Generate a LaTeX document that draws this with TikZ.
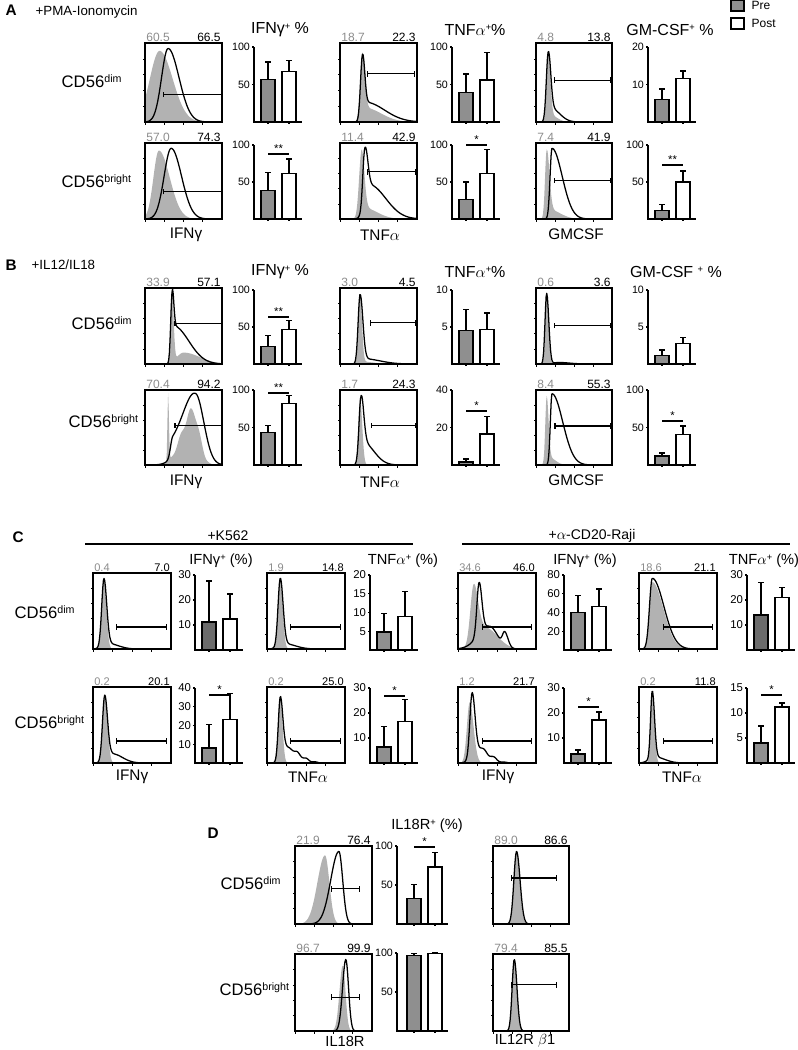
\documentclass[tikz,border=0pt]{standalone}
\usepackage{fontspec}
\setmainfont{Liberation Sans}
\definecolor{histgray}{gray}{0.70}
\definecolor{bargray}{gray}{0.56}
\definecolor{bardark}{gray}{0.42}
\definecolor{numgray}{gray}{0.55}
\newcounter{nd}
\newcommand\sps[1]{\raisebox{3.4pt}{\fontsize{8}{8}\selectfont #1}}
\newcommand\spp{\raisebox{3.4pt}{\fontsize{7}{7}\selectfont +}}
\newcommand\numsize{\fontsize{9}{9}\selectfont}
\def\parsegate#1,#2,#3\relax{\def\ga{#1}\def\gb{#2}\def\gy{#3}}
\tikzset{
  box/.style={line width=0.8pt},
  hline/.style={line width=0.95pt, line join=round},
  gateline/.style={line width=0.8pt},
  axisl/.style={line width=0.8pt},
  barl/.style={line width=0.9pt},
  thintick/.style={line width=0.4pt},
  numg/.style={font=\numsize, text=numgray, inner sep=0.8pt},
  numb/.style={font=\numsize, inner sep=0.8pt},
  title/.style={font=\fontsize{12}{13}\selectfont},
  ctitle/.style={font=\fontsize{11}{12}\selectfont},
  xlab/.style={font=\fontsize{11.5}{12}\selectfont},
  rowlab/.style={font=\fontsize{12.5}{13}\selectfont, anchor=west},
  panel/.style={font=\fontsize{11.5}{12}\selectfont\bfseries, anchor=west},
  cond/.style={font=\fontsize{10}{12}\selectfont, anchor=west},
  sigs/.style={font=\fontsize{8.5}{8.5}\selectfont, inner sep=0.4pt},
}
\pgfkeys{/bc/.is family, /bc,
  ax/.store in=\bcax, yo/.store in=\bcyo, yi/.store in=\bcyi, mx/.store in=\bcmx,
  ticks/.store in=\bcticks, g/.store in=\bcg, ge/.store in=\bcge, w/.store in=\bcw, we/.store in=\bcwe,
  fill/.store in=\bcfill, sig/.store in=\bcsig, sy/.store in=\bcsy, off/.store in=\bcoff, tf/.store in=\bctf}
\newcommand\barch[1]{%
  \stepcounter{nd}%
  \pgfkeys{/bc/.cd, fill=bargray, sig=, sy=0, off=7, tf=8, #1}%
  \pgfmathsetmacro\bcs{(\bcyo-\bcyi)/\bcmx}%
  \pgfmathsetmacro\bga{\bcax+\bcoff}%
  \pgfmathsetmacro\bgb{\bcax+\bcoff+14}%
  \pgfmathsetmacro\bgc{\bcax+\bcoff+7}%
  \pgfmathsetmacro\bwa{\bcax+\bcoff+21}%
  \pgfmathsetmacro\bwb{\bcax+\bcoff+35}%
  \pgfmathsetmacro\bwc{\bcax+\bcoff+28}%
  \pgfmathsetmacro\bend{\bcax+\bcoff+41}%
  \pgfmathsetmacro\ygt{\bcyo-\bcg*\bcs}%
  \pgfmathsetmacro\yge{\bcyo-\bcge*\bcs}%
  \pgfmathsetmacro\ywt{\bcyo-\bcw*\bcs}%
  \pgfmathsetmacro\ywe{\bcyo-\bcwe*\bcs}%
  \draw[barl] (\bgc,\ygt) -- (\bgc,\yge) (\bgc-3,\yge) -- (\bgc+3,\yge);
  \draw[barl] (\bwc,\ywt) -- (\bwc,\ywe) (\bwc-3,\ywe) -- (\bwc+3,\ywe);
  \draw[barl, fill=\bcfill] (\bga,\bcyo) rectangle (\bgb,\ygt);
  \draw[barl, fill=white] (\bwa,\bcyo) rectangle (\bwb,\ywt);
  \draw[axisl] (\bcax,\bcyi) -- (\bcax,\bcyo) -- (\bend,\bcyo);
  \draw[axisl] (\bgc,\bcyo) -- ++(0,2) (\bwc,\bcyo) -- ++(0,2);
  \foreach \tk in \bcticks {
    \draw[axisl] (\bcax,{\bcyo-\tk*\bcs}) -- ++(-2.5,0)
      node[left, inner sep=0.8pt, font=\fontsize{\bctf}{\bctf}\selectfont] (bt\arabic{nd}-\tk) {\tk};
  }
  \ifx\bcsig\empty\else
    \draw[axisl] (\bgc,\bcsy) -- (\bwc,\bcsy) node[midway, above, sigs] (bs\arabic{nd}) {\bcsig};
  \fi
}
\newcommand\hist[9]{%
  \stepcounter{nd}%
  \pgfmathsetmacro\hw{(#3-#1)*0.75}%
  \pgfmathsetmacro\hh{(#4-#2)*0.75}%
  \parsegate#7\relax
  \begin{scope}[shift={(#1,#4)}, x={(\hw pt,0pt)}, y={(0pt,\hh pt)}]
    \begin{scope}
      \clip (0,0) rectangle (1,1);
      \fill[histgray] (0,0) -- plot[domain=0:1,samples=121] (\x,{#5}) -- (1,0) -- cycle;
      \draw[hline] plot[domain=0:1,samples=121] (\x,{#6});
    \end{scope}
    \draw[box] (0,0) rectangle (1,1);
    \foreach \tk in {0.2,0.4,0.6,0.8} \draw[thintick] (0,\tk) -- ++(-0.025,0);
    \foreach \dd in {0,0.25,0.5,0.75} {
      \draw[thintick] (\dd,0) -- ++(0,-0.035);
      \foreach \mm in {0.075,0.119,0.15,0.175,0.195,0.211,0.226,0.239}
        \draw[thintick] (\dd+\mm,0) -- ++(0,-0.018);
    }
    \draw[gateline] (\ga,\gy) -- (\gb,\gy);
    \draw[gateline] (\ga,\gy-0.035) -- (\ga,\gy+0.035) (\gb,\gy-0.035) -- (\gb,\gy+0.035);
    \node[numg, anchor=south west] (hl\arabic{nd}) at (0,1) {#8};
    \node[numb, anchor=south east] (hr\arabic{nd}) at (1,1) {#9};
  \end{scope}}
\begin{document}
\begin{tikzpicture}[x=0.75pt,y=-0.75pt,
  declare function={tq(\x,\xm,\xl,\xr)=(\x-\xm)/ifthenelse(\x<\xm,\xl,\xr);
                    pk(\x,\xm,\xl,\xr)=exp(-min(20,tq(\x,\xm,\xl,\xr)*tq(\x,\xm,\xl,\xr)));}]
\useasboundingbox (0,0) rectangle (798,1050);

% ---------------- Legend
\draw[barl, fill=bargray] (731,0.8) rectangle (744,11);
\node[anchor=west, font=\fontsize{9}{10}\selectfont] (lpre) at (747,5.5) {Pre};
\draw[barl, fill=white] (731,18) rectangle (744,29);
\node[anchor=west, font=\fontsize{9}{10}\selectfont] (lpost) at (747,23.5) {Post};

% ---------------- Panel A
\node[panel] (pA) at (1,10) {A};
\node[cond] (cA) at (31,12) {+PMA-Ionomycin};
\node[title] (tA1) at (280,30) {IFNγ\spp\ \%};
\node[title] (tA2) at (475,30) {TNF$\alpha$\spp\%};
\node[title] (tA3) at (670,30) {GM-CSF\spp\ \%};
\node[rowlab] (rA1) at (57,81) {CD56\sps{dim}};
\node[rowlab] (rA2) at (57,181) {CD56\sps{bright}};

\hist{145}{43}{222}{122}{0.9*pk(\x,0.19,0.18,0.24)}{0.93*pk(\x,0.3,0.12,0.2)}{0.24,0.99,0.35}{60.5}{66.5}
\hist{340}{43}{417}{122}{0.75*pk(\x,0.29,0.04,0.045)+0.18*pk(\x,0.32,0.05,0.3)}{0.72*pk(\x,0.29,0.035,0.04)+0.25*pk(\x,0.33,0.05,0.35)}{0.36,0.97,0.61}{18.7}{22.3}
\hist{536}{43}{612}{122}{0.82*pk(\x,0.16,0.03,0.04)+0.08*pk(\x,0.2,0.05,0.12)}{0.8*pk(\x,0.16,0.035,0.045)+0.17*pk(\x,0.2,0.05,0.16)}{0.24,0.98,0.53}{4.8}{13.8}
\hist{145}{143}{222}{219}{0.9*pk(\x,0.18,0.1,0.2)}{0.93*pk(\x,0.34,0.13,0.19)}{0.24,0.99,0.36}{57.0}{74.3}
\hist{340}{143}{417}{219}{0.78*pk(\x,0.28,0.045,0.05)+0.15*pk(\x,0.3,0.06,0.25)}{0.67*pk(\x,0.32,0.035,0.05)+0.45*pk(\x,0.38,0.08,0.3)}{0.36,0.98,0.62}{11.4}{42.9}
\hist{536}{143}{612}{219}{0.85*pk(\x,0.14,0.03,0.05)+0.12*pk(\x,0.18,0.05,0.2)}{0.93*pk(\x,0.21,0.035,0.19)}{0.24,0.98,0.51}{7.4}{41.9}

\barch{ax=254,yo=122,yi=47,mx=100,ticks={50,100},g=57,ge=80,w=67,we=82}
\barch{ax=452,yo=122,yi=47,mx=100,ticks={50,100},g=39,ge=64,w=56,we=93}
\barch{ax=648,yo=122,yi=47,mx=20,ticks={10,20},g=6.1,ge=8.8,w=11.5,we=13.6}
\barch{ax=254,yo=219,yi=145,mx=100,ticks={50,100},g=38,ge=62.5,w=61,we=81,sig=**,sy=154}
\barch{ax=452,yo=219,yi=145,mx=100,ticks={50,100},g=26,ge=50,w=61,we=94,sig=*,sy=145}
\barch{ax=648,yo=219,yi=145,mx=100,ticks={50,100},g=12,ge=20,w=50,we=65,sig=**,sy=165}

\node[xlab] (xA1) at (186,235) {IFNγ};
\node[xlab] (xA2) at (380,235) {TNF$\alpha$};
\node[xlab] (xA3) at (576,234) {GMCSF};

% ---------------- Panel B
\node[panel] (pB) at (1,265) {B};
\node[cond] (cB) at (27,265) {+IL12/IL18};
\node[title] (tB1) at (280,272) {IFNγ\spp\ \%};
\node[title] (tB2) at (475,272) {TNF$\alpha$\spp\%};
\node[title] (tB3) at (676,272) {GM-CSF \spp\ \%};
\node[rowlab] (rB1) at (67,323) {CD56\sps{dim}};
\node[rowlab] (rB2) at (64,421) {CD56\sps{bright}};

\hist{145}{288}{222}{364}{0.93*pk(\x,0.35,0.025,0.03)+0.15*pk(\x,0.5,0.12,0.3)}{0.58*pk(\x,0.35,0.025,0.03)+0.5*pk(\x,0.37,0.035,0.28)}{0.39,0.99,0.53}{33.9}{57.1}
\hist{340}{288}{417}{364}{0.9*pk(\x,0.26,0.03,0.035)+0.03*pk(\x,0.3,0.1,0.2)}{0.88*pk(\x,0.26,0.035,0.05)+0.07*pk(\x,0.3,0.05,0.3)}{0.4,0.98,0.54}{3.0}{4.5}
\hist{536}{288}{612}{364}{0.92*pk(\x,0.14,0.025,0.035)}{0.93*pk(\x,0.14,0.03,0.04)+0.02*pk(\x,0.3,0.1,0.2)}{0.24,0.98,0.51}{0.6}{3.6}
\hist{145}{390}{222}{465}{0.9*pk(\x,0.3,0.012,0.015)+0.72*pk(\x,0.62,0.2,0.12)+0.05*sin(2600*\x)*pk(\x,0.6,0.2,0.15)}{0.86*pk(\x,0.66,0.22,0.15)+0.25*pk(\x,0.36,0.04,0.3)}{0.39,0.99,0.53}{70.4}{94.2}
\hist{340}{390}{417}{465}{0.9*pk(\x,0.26,0.03,0.04)}{0.7*pk(\x,0.27,0.035,0.05)+0.3*pk(\x,0.3,0.05,0.2)}{0.41,0.98,0.53}{1.7}{24.3}
\hist{536}{390}{612}{465}{0.85*pk(\x,0.14,0.025,0.035)+0.1*pk(\x,0.17,0.05,0.12)}{0.95*pk(\x,0.21,0.03,0.2)}{0.25,0.98,0.52}{8.4}{55.3}

\barch{ax=254,yo=364,yi=290,mx=100,ticks={50,100},g=24,ge=39,w=47,we=59,sig=**,sy=317}
\barch{ax=452,yo=364,yi=290,mx=10,ticks={5,10},g=4.5,ge=7.4,w=4.7,we=6.9}
\barch{ax=648,yo=364,yi=290,mx=10,ticks={5,10},g=1.2,ge=1.9,w=2.8,we=3.6}
\barch{ax=254,yo=465,yi=390,mx=100,ticks={50,100},g=43,ge=53,w=82,we=93,sig=**,sy=393}
\barch{ax=452,yo=465,yi=390,mx=40,ticks={20,40},g=1.6,ge=3.2,w=16.5,we=26,sig=*,sy=411}
\barch{ax=648,yo=465,yi=390,mx=100,ticks={50,100},g=12,ge=16,w=41,we=52,sig=*,sy=421}

\node[xlab] (xB1) at (186,482) {IFNγ};
\node[xlab] (xB2) at (380,482) {TNF$\alpha$};
\node[xlab] (xB3) at (576,480) {GMCSF};

% ---------------- Panel C
\renewcommand\numsize{\fontsize{8.3}{8.3}\selectfont}
\node[panel] (pC) at (8,537) {C};
\node[font=\fontsize{10.5}{12}\selectfont] (k562) at (228,536) {+K562};
\draw[axisl] (85,544) -- (413,544);
\node[font=\fontsize{10.5}{12}\selectfont] (raji) at (592,536) {+$\alpha$-CD20-Raji};
\draw[axisl] (462,544) -- (790,544);
\node[ctitle] (tC1) at (221,561) {IFNγ\spp\ (\%)};
\node[ctitle] (tC2) at (403,561) {TNF$\alpha$\spp\ (\%)};
\node[ctitle] (tC3) at (585,561) {IFNγ\spp\ (\%)};
\node[ctitle] (tC4) at (764,561) {TNF$\alpha$\spp\ (\%)};
\node[rowlab] (rC1) at (10,612) {CD56\sps{dim}};
\node[rowlab] (rC2) at (10,722) {CD56\sps{bright}};

\hist{93}{573}{171}{649}{0.9*pk(\x,0.14,0.04,0.045)}{0.88*pk(\x,0.14,0.04,0.05)+0.07*pk(\x,0.2,0.1,0.18)}{0.3,0.94,0.29}{0.4}{7.0}
\hist{267}{573}{345}{649}{0.9*pk(\x,0.17,0.04,0.045)}{0.88*pk(\x,0.17,0.04,0.05)+0.07*pk(\x,0.22,0.1,0.2)}{0.3,0.94,0.29}{1.9}{14.8}
\hist{458}{573}{536}{649}{0.75*pk(\x,0.2,0.06,0.08)+0.28*pk(\x,0.35,0.15,0.22)}{0.68*pk(\x,0.27,0.04,0.05)+0.3*pk(\x,0.4,0.2,0.15)+0.18*pk(\x,0.6,0.04,0.06)}{0.31,0.94,0.29}{34.6}{46.0}
\hist{639}{573}{717}{649}{0.88*pk(\x,0.17,0.05,0.2)}{0.93*pk(\x,0.17,0.05,0.21)}{0.31,0.94,0.29}{18.6}{21.1}
\hist{93}{687}{171}{763}{0.9*pk(\x,0.15,0.04,0.05)}{0.85*pk(\x,0.15,0.04,0.05)+0.12*pk(\x,0.25,0.1,0.18)}{0.3,0.94,0.29}{0.2}{20.1}
\hist{267}{687}{345}{763}{0.88*pk(\x,0.17,0.04,0.04)}{0.8*pk(\x,0.17,0.035,0.045)+0.2*pk(\x,0.25,0.08,0.22)+0.015*sin(3000*\x)*pk(\x,0.4,0.15,0.2)}{0.3,0.94,0.29}{0.2}{25.0}
\hist{458}{687}{536}{763}{0.8*pk(\x,0.15,0.05,0.07)}{0.8*pk(\x,0.18,0.04,0.05)+0.2*pk(\x,0.25,0.1,0.2)+0.02*sin(2500*\x)*pk(\x,0.4,0.15,0.15)}{0.31,0.94,0.29}{1.2}{21.7}
\hist{639}{687}{717}{763}{0.85*pk(\x,0.17,0.03,0.04)}{0.88*pk(\x,0.17,0.03,0.04)+0.08*pk(\x,0.2,0.1,0.18)}{0.31,0.94,0.29}{0.2}{11.8}

\barch{ax=195,yo=650,yi=575,mx=30,ticks={10,20,30},g=11.2,ge=27.6,w=12.4,we=22.4,fill=bardark,tf=8.5}
\barch{ax=370,yo=650,yi=575,mx=20,ticks={5,10,15,20},g=4.8,ge=9.8,w=9,we=15.5,tf=8.5}
\barch{ax=564,yo=650,yi=575,mx=80,ticks={20,40,60,80},g=40,ge=58,w=46,we=65,tf=8.5}
\barch{ax=747,yo=650,yi=575,mx=30,ticks={10,20,30},g=14,ge=27,w=21,we=25,fill=bardark,tf=8.5}
\barch{ax=195,yo=763,yi=688,mx=40,ticks={10,20,30,40},g=8,ge=20.5,w=23,we=37,sig=*,sy=695,tf=8.5}
\barch{ax=370,yo=763,yi=688,mx=30,ticks={10,20,30},g=6.4,ge=14.5,w=16.5,we=25.5,sig=*,sy=696,tf=8.5}
\barch{ax=564,yo=763,yi=688,mx=30,ticks={10,20,30},g=3.6,ge=5.2,w=17.2,we=20.4,sig=*,sy=707,tf=8.5}
\barch{ax=747,yo=763,yi=688,mx=15,ticks={5,10,15},g=4,ge=7.4,w=11.2,we=12,sig=*,sy=695,tf=8.5}

\node[xlab] (xC1) at (132,777) {IFNγ};
\node[xlab] (xC2) at (308,777) {TNF$\alpha$};
\node[xlab] (xC3) at (498,777) {IFNγ};
\node[xlab] (xC4) at (682,777) {TNF$\alpha$};

% ---------------- Panel D
\renewcommand\numsize{\fontsize{9}{9}\selectfont}
\node[panel] (pD) at (203,833) {D};
\node[ctitle] (tD1) at (427,826) {IL18R\spp\ (\%)};
\node[rowlab] (rD1) at (216,883) {CD56\sps{dim}};
\node[rowlab] (rD2) at (215,989) {CD56\sps{bright}};

\hist{295}{846}{372}{924}{0.88*pk(\x,0.39,0.14,0.08)}{0.93*pk(\x,0.57,0.15,0.07)}{0.47,0.84,0.45}{21.9}{76.4}
\hist{493}{846}{569}{924}{0.9*pk(\x,0.31,0.05,0.06)}{0.93*pk(\x,0.31,0.05,0.065)}{0.24,0.83,0.59}{89.0}{86.6}
\hist{295}{954}{372}{1031}{0.85*pk(\x,0.62,0.06,0.05)}{0.93*pk(\x,0.66,0.06,0.05)}{0.47,0.84,0.44}{96.7}{99.9}
\hist{493}{954}{569}{1031}{0.88*pk(\x,0.28,0.04,0.05)}{0.93*pk(\x,0.28,0.04,0.05)}{0.24,0.83,0.6}{79.4}{85.5}

\barch{ax=397,yo=924,yi=846,mx=100,ticks={50,100},g=33,ge=51,w=73,we=92,sig=*,sy=847,off=10}
\barch{ax=397,yo=1031,yi=953,mx=100,ticks={50,100},g=97,ge=99,w=99.5,we=101,off=10}

\node[font=\fontsize{11}{12}\selectfont] (xD1) at (345,1041) {IL18R};
\node[font=\fontsize{11}{12}\selectfont] (xD2) at (525,1041) {IL12R $\beta$1};
\end{tikzpicture}
\end{document}
